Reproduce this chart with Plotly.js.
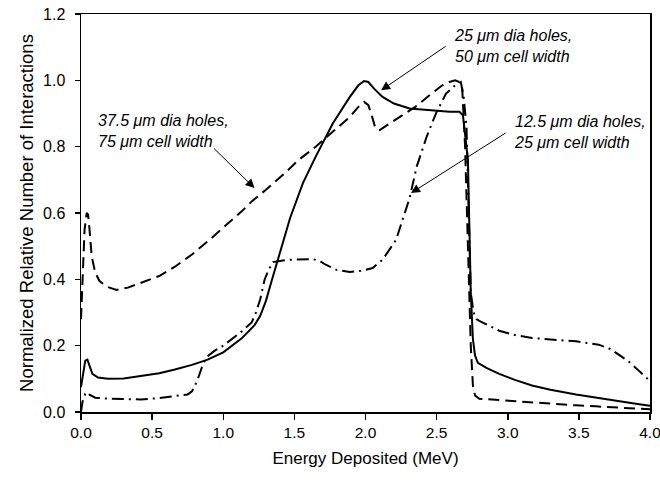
<!DOCTYPE html>
<html>
<head>
<meta charset="utf-8">
<script src="https://cdn.plot.ly/plotly-3.0.1.min.js"></script>
<style>html,body{margin:0;padding:0;background:#fff;}#chart{width:660px;height:482px;}</style>
</head>
<body>
<div id="chart"></div>
<script>
// 25 um dia holes, 50 um cell width (solid)
var x25 = [0.0,0.015,0.03,0.045,0.06,0.08,0.12,0.19,0.3,0.42,0.55,0.66,0.78,0.89,1.0,1.13,1.22,1.26,1.30,1.34,1.37,1.42,1.47,1.56,1.65,1.77,1.89,1.95,1.99,2.02,2.06,2.12,2.2,2.31,2.45,2.59,2.66,2.685,2.72,2.74,2.755,2.77,2.79,2.85,2.94,3.05,3.17,3.3,3.48,3.62,3.76,3.9,4.0];
var y25 = [0.075,0.12,0.155,0.158,0.14,0.115,0.104,0.100,0.101,0.108,0.117,0.128,0.142,0.158,0.18,0.222,0.262,0.29,0.335,0.395,0.44,0.515,0.585,0.69,0.77,0.87,0.95,0.985,0.998,0.995,0.975,0.95,0.93,0.915,0.91,0.905,0.905,0.895,0.76,0.36,0.22,0.17,0.148,0.133,0.115,0.097,0.08,0.067,0.053,0.043,0.034,0.025,0.019];

// 37.5 um dia holes, 75 um cell width (dashed)
var x375 = [0.0,0.01,0.025,0.04,0.05,0.06,0.075,0.1,0.13,0.18,0.25,0.33,0.42,0.55,0.66,0.78,0.89,1.0,1.13,1.2,1.3,1.42,1.53,1.65,1.77,1.89,1.95,1.99,2.02,2.04,2.07,2.1,2.17,2.26,2.35,2.45,2.54,2.59,2.63,2.66,2.68,2.70,2.72,2.74,2.755,2.77,2.80,2.94,3.15,3.48,3.62,3.8,4.0];
var y375 = [0.28,0.4,0.55,0.6,0.595,0.55,0.47,0.42,0.395,0.378,0.368,0.375,0.389,0.41,0.438,0.475,0.514,0.555,0.605,0.635,0.67,0.715,0.76,0.80,0.845,0.89,0.92,0.935,0.925,0.9,0.855,0.85,0.87,0.895,0.92,0.955,0.985,0.995,1.0,0.995,0.975,0.8,0.5,0.2,0.08,0.05,0.04,0.036,0.028,0.02,0.017,0.012,0.008];

// 12.5 um dia holes, 25 um cell width (dash-dot)
var x125 = [0.0,0.01,0.03,0.045,0.06,0.1,0.2,0.31,0.42,0.55,0.66,0.75,0.78,0.80,0.83,0.86,0.89,0.94,1.0,1.13,1.2,1.23,1.26,1.29,1.32,1.35,1.42,1.5,1.63,1.68,1.72,1.8,1.89,1.98,2.05,2.12,2.215,2.31,2.36,2.43,2.5,2.566,2.63,2.67,2.69,2.71,2.74,2.76,2.78,2.80,2.94,3.05,3.17,3.3,3.48,3.64,3.72,3.78,3.85,3.90,3.95,4.0];
var y125 = [0.0,0.03,0.055,0.06,0.052,0.043,0.04,0.039,0.038,0.042,0.047,0.053,0.062,0.078,0.11,0.148,0.168,0.185,0.2,0.243,0.27,0.3,0.34,0.398,0.43,0.452,0.457,0.46,0.461,0.455,0.444,0.428,0.422,0.426,0.434,0.459,0.519,0.645,0.74,0.83,0.905,0.96,0.985,0.995,0.95,0.86,0.36,0.3,0.28,0.275,0.245,0.232,0.223,0.218,0.213,0.203,0.19,0.173,0.152,0.133,0.113,0.093];

var xTickVals = [0,0.5,1,1.5,2,2.5,3,3.5,4];
var xTickText = ["0.0","0.5","1.0","1.5","2.0","2.5","3.0","3.5","4.0"];
var yTickVals = [0,0.2,0.4,0.6,0.8,1.0,1.2];
var yTickText = ["0.0","0.2","0.4","0.6","0.8","1.0","1.2"];

var FONT = "Liberation Sans, Arial, sans-serif";

var traces = [
  {x: x25, y: y25, type: "scatter", mode: "lines", line: {color: "#000", width: 2}, hoverinfo: "skip"},
  {x: x375, y: y375, type: "scatter", mode: "lines", line: {color: "#000", width: 2, dash: "11px,6px"}, hoverinfo: "skip"},
  {x: x125, y: y125, type: "scatter", mode: "lines", line: {color: "#000", width: 2, dash: "12px,5px,2px,5px"}, hoverinfo: "skip"}
];

var textFont = {family: FONT, size: 16, color: "#000"};
var arrowStyle = {arrowhead: 2, arrowsize: 1.8, arrowwidth: 1, arrowcolor: "#000"};
function arrow(x, y, ax, ay) {
  return Object.assign({xref: "x", yref: "y", x: x, y: y, ax: ax, ay: ay, text: " ", showarrow: true, font: {size: 1}}, arrowStyle);
}

var layout = {
  width: 660, height: 482,
  margin: {l: 81, r: 10, t: 14, b: 70},
  paper_bgcolor: "#fff", plot_bgcolor: "#fff",
  showlegend: false,
  font: {family: FONT, color: "#000"},
  xaxis: {
    range: [0, 4], tickvals: xTickVals, ticktext: xTickText,
    ticks: "outside", ticklen: 6, tickwidth: 1.5, tickcolor: "#000",
    showline: true, linecolor: "#000", linewidth: 1.5, mirror: true,
    showgrid: false, zeroline: false, ticklabeloverflow: "allow",
    tickfont: {family: FONT, size: 15.5, color: "#000"},
    title: {text: "Energy Deposited (MeV)", font: {family: FONT, size: 17, color: "#000"}, standoff: 12}
  },
  yaxis: {
    range: [0, 1.2], tickvals: yTickVals, ticktext: yTickText,
    ticks: "outside", ticklen: 5, tickwidth: 1.5, tickcolor: "#000",
    showline: true, linecolor: "#000", linewidth: 1.5, mirror: true,
    showgrid: false, zeroline: false, ticklabelstandoff: 6, ticklabeloverflow: "allow",
    tickfont: {family: FONT, size: 16, color: "#000"},
    title: {text: "Normalized Relative Number of Interactions", font: {family: FONT, size: 18.5, color: "#000"}, standoff: 4}
  },
  annotations: [
    {xref: "x", yref: "y", x: 0.103, y: 0.847, xanchor: "left", yanchor: "middle", align: "left", showarrow: false,
     text: "<i>37.5 \u03bcm dia holes,</i><br><i>75 \u03bcm cell width</i>", font: textFont},
    {xref: "x", yref: "y", x: 2.61, y: 1.105, xanchor: "left", yanchor: "middle", align: "left", showarrow: false,
     text: "<i>25 \u03bcm dia holes,</i><br><i>50 \u03bcm cell width</i>", font: textFont},
    {xref: "x", yref: "y", x: 3.03, y: 0.843, xanchor: "left", yanchor: "middle", align: "left", showarrow: false,
     text: "<i>12.5 \u03bcm dia holes,</i><br><i>25 \u03bcm cell width</i>", font: textFont},
    arrow(1.22, 0.675, -42, -41),
    arrow(2.11, 0.97, 66, -45),
    arrow(2.32, 0.66, 96, -61)
  ]
};

Plotly.newPlot("chart", traces, layout, {staticPlot: true, displayModeBar: false});
</script>
</body>
</html>
